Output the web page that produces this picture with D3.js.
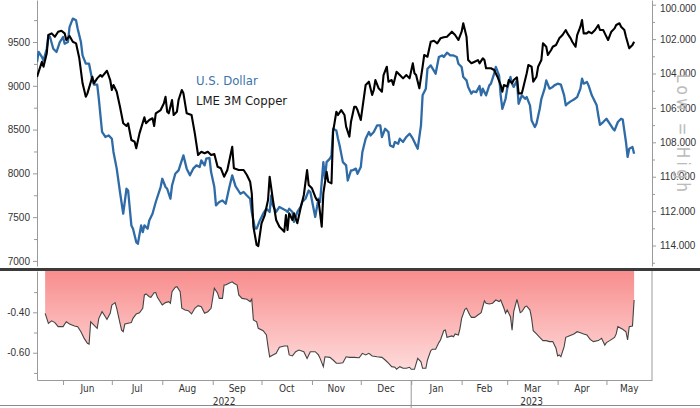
<!DOCTYPE html>
<html>
<head>
<meta charset="utf-8">
<script src="https://cdnjs.cloudflare.com/ajax/libs/d3/7.8.5/d3.min.js"></script>
<style>
  html, body { margin: 0; padding: 0; background: #fff; }
  svg { display: block; font-family: "DejaVu Sans Condensed", "DejaVu Sans", sans-serif; }
</style>
</head>
<body>
<div id="chart"></div>
<script>
// data: day offsets are counted from startDate
const startDate = new Date(2022, 4, 16);
const endDate = new Date(2023, 4, 29);

const copperDays = [0,3,4,6,7,9,11,13,15,17,18,20,22,24,26,28,30,31,34,35,37,39,40,43,45,46,47,49,51,53,55,56,58,60,61,63,66,67,69,71,72,73,76,78,79,80,81,83,84,86,87,89,90,92,95,97,99,101,103,105,107,109,111,113,115,117,120,121,124,127,129,131,132,133,135,136,138,140,142,143,145,147,149,151,152,153,154,155,157,158,160,162,164,166,167,169,171,172,173,175,176,178,179,181,182,184,185,187,189,190,192,193,195,196,197,199,200,202,204,206,207,208,210,212,213,215,216,218,219,221,223,225,227,229,231,232,233,235,237,238,240,242,244,246,248,250,252,255,257,259,261,262,264,265,267,269,271,272,274,275,276,279,281,283,285,286,287,289,290,292,293,295,296,298,299,301,302,304,305,307,308,310,311,313,314,316,317,319,320,321,323,325,326,328,329,331,332,334,335,336,338,339,341,343,345,346,348,349,351,353,355,356,358,359,361,362,364,366,367];
const copperPrices = [9100,9275,9218,9371,9580,9599,9560,9618,9629,9599,9523,9569,9503,9485,9314,9028,8875,8914,9104,9028,9085,9123,9104,9172,9066,8952,9009,8932,8761,8572,8541,8572,8381,8361,8286,8457,8640,8572,8609,8629,8541,8686,8723,8800,8875,8704,8686,8838,8666,8704,8838,8952,8914,8686,8666,8457,8210,8247,8229,8247,8210,8221,8076,8058,7962,8038,8304,8058,8038,8038,7981,7905,7772,7391,7182,7170,7430,7524,7696,7962,7696,7467,7391,7353,7334,7524,7353,7544,7467,7544,7430,7601,7753,8038,7867,7829,7733,7696,7696,7391,7772,8019,7905,7886,8476,8704,8666,8723,8666,8533,8419,8590,8761,8761,8723,8609,8743,9009,9047,8895,8952,9066,8971,8932,9123,9218,9047,9066,9009,9161,9123,9085,9123,9085,9257,9143,9123,8971,9218,9352,9332,9503,9515,9485,9542,9554,9561,9618,9580,9523,9618,9714,9561,9294,9257,9275,9294,9257,9314,9294,9200,9200,9180,9104,9009,8932,9009,8990,9066,9028,9066,9097,8914,8914,8990,9143,9237,9218,9047,9104,9218,9294,9485,9446,9352,9409,9446,9466,9503,9542,9580,9637,9599,9542,9503,9446,9580,9675,9751,9599,9599,9618,9599,9637,9694,9637,9637,9599,9523,9618,9656,9694,9714,9675,9637,9561,9428,9466,9503];

const usdDays = [0,1,3,4,6,7,8,10,12,14,16,17,19,20,22,24,25,27,28,30,32,34,35,37,38,40,42,44,46,47,49,51,53,55,56,58,59,61,62,64,65,66,68,69,71,73,76,77,79,80,82,83,85,87,88,90,92,94,96,98,100,101,103,104,106,107,109,110,112,114,116,118,120,122,125,127,129,131,132,134,135,137,139,141,143,144,145,147,149,151,153,154,155,157,158,160,162,163,165,167,168,170,171,173,174,176,177,178,180,181,182,184,185,186,188,190,191,193,194,196,197,199,200,202,204,205,207,209,211,212,214,216,217,219,220,222,223,225,227,229,231,233,234,236,237,239,240,242,245,247,249,250,252,254,256,258,259,261,262,264,265,267,268,270,272,273,274,276,278,279,281,282,284,285,286,288,289,291,292,293,295,296,298,300,301,303,304,306,307,309,310,312,313,315,317,318,320,322,324,325,326,328,330,332,334,335,336,338,339,341,344,345,346,348,350,352,354,355,357,359,360,362,363,364,366,367];
const usdIndex = [103.33,102.75,103.04,103.24,102.56,101.78,101.88,102.56,102.75,102.17,101.88,102.27,102.17,101.30,100.81,100.91,101.40,102.17,102.95,103.43,103.43,104.40,104.65,104.65,105.47,107.40,107.69,107.60,107.79,108.56,109.53,110.89,112.15,110.70,110.80,112.83,113.02,113.80,113.90,112.83,113.22,112.83,113.02,112.54,112.15,111.47,110.60,110.12,110.60,110.70,111.28,110.51,109.83,109.63,109.34,108.76,109.53,109.92,109.53,109.34,109.44,109.05,109.34,108.95,108.91,109.73,110.60,111.67,111.47,111.38,111.57,110.70,109.92,110.55,110.99,110.89,111.09,111.28,112.05,113.02,113.02,112.54,112.15,111.86,112.05,111.09,111.67,112.05,111.76,111.86,111.96,112.05,111.86,112.05,112.63,112.05,111.76,111.47,111.28,110.80,110.89,111.86,112.34,111.28,111.47,109.15,110.12,109.15,108.95,108.76,107.21,107.31,107.79,108.18,109.15,109.34,110.22,109.63,109.63,109.53,109.83,109.44,108.56,107.79,107.40,107.60,107.40,107.02,107.02,107.69,107.21,107.40,108.18,108.27,107.98,108.08,107.79,107.98,107.69,107.50,107.79,108.18,108.37,107.02,105.27,104.88,103.72,103.53,104.01,103.04,102.95,103.04,102.79,102.95,102.95,103.04,103.43,103.62,104.20,104.40,104.78,105.17,105.04,105.08,104.73,105.27,104.88,105.27,104.69,104.59,104.01,103.62,104.11,105.27,106.05,105.47,104.88,104.20,104.59,104.78,104.40,105.76,105.27,105.47,105.37,105.85,106.73,107.11,106.92,106.05,105.47,104.88,104.40,104.88,104.78,104.69,104.59,104.65,105.27,105.85,105.76,105.62,105.51,105.37,104.88,104.30,104.59,104.49,104.69,105.27,105.85,106.44,106.98,106.82,106.63,106.92,107.21,107.31,106.82,106.63,106.67,107.98,108.85,108.37,108.27,108.66];

const corrDays = [5,7,9,11,13,16,18,20,23,25,27,29,31,32,33,35,37,38,40,42,43,45,46,48,49,51,52,53,54,56,58,59,61,63,65,66,67,69,70,72,73,74,77,79,81,82,83,85,86,88,89,91,93,95,97,99,101,103,105,107,109,111,112,114,115,116,118,120,121,123,124,126,129,131,132,133,135,136,139,141,142,143,145,147,149,152,154,155,157,159,161,164,166,168,171,173,174,176,177,180,182,184,186,188,190,192,195,198,200,202,204,206,209,212,214,216,218,220,221,223,225,227,229,230,232,234,236,237,239,240,242,243,245,247,248,250,251,252,255,256,257,259,260,261,263,264,266,267,269,271,273,275,276,278,280,282,284,285,287,288,289,291,292,293,295,297,298,300,301,303,304,305,307,309,311,313,315,317,319,320,321,322,324,325,327,330,332,334,336,338,340,342,345,347,349,350,352,355,356,357,360,362,363,364,366,367];
const corrValues = [-0.405,-0.455,-0.442,-0.451,-0.471,-0.471,-0.447,-0.458,-0.468,-0.471,-0.496,-0.529,-0.553,-0.557,-0.447,-0.463,-0.479,-0.430,-0.397,-0.422,-0.435,-0.405,-0.364,-0.352,-0.380,-0.454,-0.488,-0.496,-0.458,-0.454,-0.451,-0.430,-0.408,-0.402,-0.380,-0.314,-0.309,-0.323,-0.326,-0.303,-0.302,-0.326,-0.364,-0.352,-0.347,-0.355,-0.298,-0.276,-0.273,-0.298,-0.380,-0.389,-0.392,-0.408,-0.380,-0.367,-0.372,-0.405,-0.397,-0.380,-0.281,-0.306,-0.331,-0.331,-0.265,-0.265,-0.256,-0.249,-0.256,-0.265,-0.314,-0.331,-0.335,-0.347,-0.335,-0.438,-0.447,-0.479,-0.491,-0.512,-0.570,-0.620,-0.611,-0.603,-0.573,-0.567,-0.567,-0.611,-0.616,-0.595,-0.587,-0.595,-0.628,-0.595,-0.595,-0.611,-0.628,-0.669,-0.620,-0.623,-0.636,-0.652,-0.652,-0.650,-0.620,-0.623,-0.623,-0.625,-0.603,-0.611,-0.603,-0.616,-0.620,-0.623,-0.636,-0.652,-0.669,-0.672,-0.682,-0.669,-0.677,-0.677,-0.672,-0.682,-0.682,-0.628,-0.645,-0.677,-0.677,-0.636,-0.590,-0.583,-0.583,-0.550,-0.537,-0.491,-0.488,-0.524,-0.517,-0.521,-0.507,-0.512,-0.479,-0.430,-0.385,-0.380,-0.413,-0.425,-0.425,-0.413,-0.402,-0.343,-0.355,-0.359,-0.355,-0.339,-0.347,-0.339,-0.380,-0.405,-0.389,-0.422,-0.488,-0.397,-0.336,-0.402,-0.397,-0.372,-0.369,-0.389,-0.430,-0.491,-0.507,-0.524,-0.540,-0.540,-0.545,-0.545,-0.578,-0.616,-0.611,-0.620,-0.570,-0.524,-0.517,-0.507,-0.496,-0.501,-0.507,-0.512,-0.534,-0.545,-0.540,-0.529,-0.562,-0.550,-0.540,-0.524,-0.507,-0.471,-0.484,-0.496,-0.537,-0.471,-0.468,-0.339];

const copperTicks = [7000, 7500, 8000, 8500, 9000, 9500];
const copperMinor = [7250, 7750, 8250, 8750, 9250, 9750];
const usdTicks = [100, 102, 104, 106, 108, 110, 112, 114];
const usdMinor = [101, 103, 105, 107, 109, 111, 113, 115];
const corrTicks = [-0.4, -0.6];
const corrMinor = [-0.3, -0.5, -0.7];
const monthLabels = ["Jun", "Jul", "Aug", "Sep", "Oct", "Nov", "Dec", "Jan", "Feb", "Mar", "Apr", "May"];
const yearLabels = ["2022", "2023"];
const seriesNames = ["U.S. Dollar", "LME 3M Copper"];

const W = 700, H = 408;
const L = 37, R = 652;
const topY = [0, 266];
const botY = [271, 380];
const blue = "#2f6ba6";
const tickColor = "#9a9a9a";
const textColor = "#333";

const svg = d3.select("#chart").append("svg").attr("width", W).attr("height", H);

const x = d3.scaleTime().domain([startDate, endDate]).range([L, R]);
const day = (d) => d3.timeDay.offset(startDate, d);

const yCopper = d3.scaleLinear().domain([6942, 9980]).range([topY[1], topY[0]]);
const yUsd = d3.scaleLinear().domain([99.727, 115.19]).range([topY[0], topY[1]]);
const yCorr = d3.scaleLinear().domain([-0.735, -0.1955]).range([botY[1], botY[0]]);

const copper = copperDays.map((d, i) => ({ date: day(d), v: copperPrices[i] }));
const usd = usdDays.map((d, i) => ({ date: day(d), v: usdIndex[i] }));
const corr = corrDays.map((d, i) => ({ date: day(d), v: corrValues[i] }));

function styleAxis(g, size) {
  g.select(".domain").attr("stroke", tickColor);
  g.selectAll(".tick line").attr("stroke", tickColor);
  g.selectAll(".tick text").attr("fill", textColor).attr("font-size", size || 10).attr("font-family", null);
}

// gradient for the correlation fill
const grad = svg.append("defs").append("linearGradient")
  .attr("id", "corrFill").attr("gradientUnits", "userSpaceOnUse")
  .attr("x1", 0).attr("x2", 0).attr("y1", botY[0]).attr("y2", botY[1]);
grad.append("stop").attr("offset", "0%").attr("stop-color", "#f88d8d");
grad.append("stop").attr("offset", "100%").attr("stop-color", "#ffe3e3");

svg.select("defs").append("clipPath").attr("id", "clipTop")
  .append("rect").attr("x", L).attr("y", topY[0]).attr("width", R - L).attr("height", topY[1] - topY[0]);

// top panel axes
svg.append("g").attr("transform", `translate(${L},0)`)
  .call(d3.axisLeft(yCopper).tickValues(copperTicks).tickSize(4).tickSizeOuter(0).tickPadding(3).tickFormat(d3.format("d")))
  .call((g) => styleAxis(g));
svg.append("g").attr("transform", `translate(${L},0)`)
  .call(d3.axisLeft(yCopper).tickValues(copperMinor).tickSize(3).tickSizeOuter(0).tickFormat(""))
  .call((g) => { styleAxis(g); g.select(".domain").remove(); });

svg.append("g").attr("transform", `translate(${R},0)`)
  .call(d3.axisRight(yUsd).tickValues(usdTicks).tickSize(4).tickSizeOuter(0).tickPadding(4).tickFormat(d3.format(".3f")))
  .call((g) => {
    styleAxis(g);
    // the top label sits a little lower so it is not cut off
    g.selectAll(".tick text").filter((d) => d === usdTicks[0]).attr("dy", "0.7em");
  });
svg.append("g").attr("transform", `translate(${R},0)`)
  .call(d3.axisRight(yUsd).tickValues(usdMinor.filter((v) => yUsd(v) < topY[1])).tickSize(3).tickSizeOuter(0).tickFormat(""))
  .call((g) => { styleAxis(g); g.select(".domain").remove(); });

svg.append("text")
  .attr("transform", "translate(677,133) rotate(90)")
  .attr("text-anchor", "middle")
  .attr("font-size", 17)
  .attr("fill", "#bbbbbb")
  .attr("textLength", 118)
  .attr("lengthAdjust", "spacing")
  .text("Low = High");

// top panel lines
const plot = svg.append("g").attr("clip-path", "url(#clipTop)");
plot.append("path").datum(usd)
  .attr("fill", "none").attr("stroke", blue).attr("stroke-width", 2.3).attr("stroke-linejoin", "round")
  .attr("d", d3.line().x((d) => x(d.date)).y((d) => yUsd(d.v)));
plot.append("path").datum(copper)
  .attr("fill", "none").attr("stroke", "#000").attr("stroke-width", 2.1).attr("stroke-linejoin", "round")
  .attr("d", d3.line().x((d) => x(d.date)).y((d) => yCopper(d.v)));

// legend
svg.append("text").attr("x", 196).attr("y", 85).attr("font-size", 13).attr("fill", "#3d74ad").text(seriesNames[0]);
svg.append("text").attr("x", 196).attr("y", 105).attr("font-size", 13).attr("fill", "#1a1a1a").text(seriesNames[1]);

// panel separator
svg.append("rect").attr("x", 0).attr("y", 268).attr("width", W).attr("height", 3).attr("fill", "#3b3b3b");

// bottom panel
svg.append("path").datum(corr)
  .attr("fill", "url(#corrFill)")
  .attr("d", d3.area().x((d) => x(d.date)).y0(botY[0]).y1((d) => yCorr(d.v)));
svg.append("path").datum(corr)
  .attr("fill", "none").attr("stroke", "#444").attr("stroke-width", 1.1)
  .attr("d", d3.line().x((d) => x(d.date)).y((d) => yCorr(d.v)));

svg.append("g").attr("transform", `translate(${L},0)`)
  .call(d3.axisLeft(yCorr).tickValues(corrTicks).tickSize(4).tickSizeOuter(0).tickPadding(3).tickFormat((d) => d.toFixed(2)))
  .call((g) => styleAxis(g));
svg.append("g").attr("transform", `translate(${L},0)`)
  .call(d3.axisLeft(yCorr).tickValues(corrMinor).tickSize(3).tickSizeOuter(0).tickFormat(""))
  .call((g) => { styleAxis(g); g.select(".domain").remove(); });

svg.append("line").attr("x1", R).attr("x2", R).attr("y1", botY[0]).attr("y2", botY[1]).attr("stroke", tickColor);

// x axis
const months = d3.timeMonth.range(new Date(2022, 5, 1), new Date(2023, 5, 1));
svg.append("g").attr("transform", `translate(0,${botY[1]})`)
  .call(d3.axisBottom(x).tickValues(months).tickSize(5).tickSizeOuter(0).tickFormat(""))
  .call((g) => styleAxis(g));

const [d0, d1] = x.domain();
svg.append("g").selectAll("text").data(months).join("text")
  .attr("x", (d) => {
    const a = d3.max([d, d0]);
    const b = d3.min([d3.timeMonth.offset(d, 1), d1]);
    return (x(a) + x(b)) / 2;
  })
  .attr("y", 392)
  .attr("text-anchor", "middle").attr("font-size", 10).attr("fill", textColor)
  .text((d, i) => monthLabels[i]);

const newYear = new Date(2023, 0, 1);
const yearSpans = [[d0, newYear], [newYear, d1]];
svg.append("g").selectAll("text").data(yearSpans).join("text")
  .attr("x", (d) => (x(d[0]) + x(d[1])) / 2)
  .attr("y", 405)
  .attr("text-anchor", "middle").attr("font-size", 10).attr("fill", textColor)
  .text((d, i) => yearLabels[i]);

svg.append("line").attr("x1", x(newYear)).attr("x2", x(newYear)).attr("y1", botY[1]).attr("y2", H)
  .attr("stroke", tickColor);
svg.append("line").attr("x1", 0).attr("x2", W).attr("y1", 405.5).attr("y2", 405.5)
  .attr("stroke", "#8a8a8a");
</script>
</body>
</html>
